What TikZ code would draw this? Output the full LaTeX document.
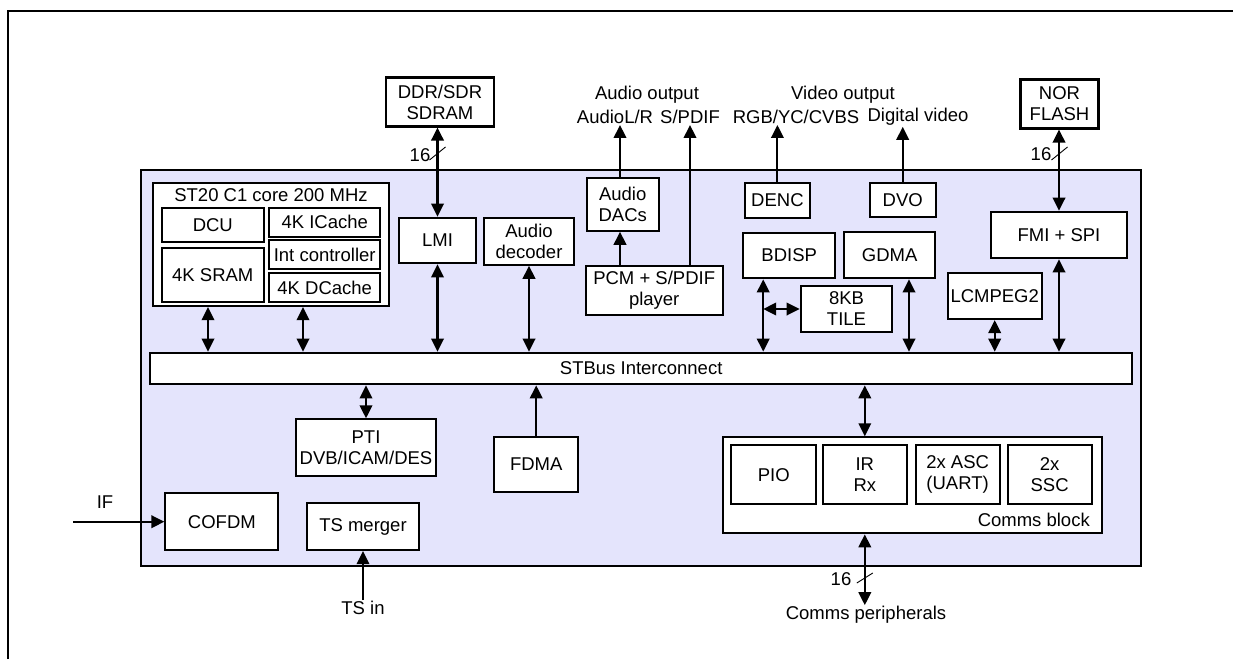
\documentclass[tikz,border=0pt]{standalone}
\usepackage{fontspec}
\setmainfont{Liberation Sans}
\usepackage{tikz}
\usetikzlibrary{calc, positioning, arrows.meta}
\usepackage{xcolor}
\definecolor{chipFill}{RGB}{228, 228, 252}

\begin{document}
\begin{tikzpicture}[
  x=1pt, y=-1pt,
  every node/.style={font=\fontsize{18.5}{21}\selectfont},
  blk/.style={draw, line width=2.1pt, fill=white, align=center, inner sep=0pt},
  lbl/.style={align=center, inner sep=1pt},
  link/.style={line width=2.1pt},
  slash/.style={line width=0.9pt},
  >={Triangle[length=13pt, width=12.5pt]}
]
  \useasboundingbox (0,0) rectangle (1233,659);
  \draw[line width=2.6pt] (8,659) -- (8,11) -- (1233,11);

  % chip outline
  \draw[line width=2.1pt, fill=chipFill] (141,170) rectangle (1141,566);

  % external memories and outputs
  \node[blk, minimum width=108pt, minimum height=49pt] (sdram) at (440,102) {DDR/SDR\\SDRAM};
  \node[blk, minimum width=78pt, minimum height=49pt] (nor) at (1059.5,104) {NOR\\FLASH};
  \node[lbl] (aout) at (647,95) {Audio output};
  \node[lbl] (audlr) at (615,117) {AudioL/R};
  \node[lbl] (spdif) at (690,117) {S/PDIF};
  \node[lbl] (vout) at (843,95) {Video output};
  \node[lbl] (rgb) at (796,117) {RGB/YC/CVBS};
  \node[lbl] (digv) at (918,117) {Digital video};

  % CPU core
  \node[blk, minimum width=236.6pt, minimum height=122.7pt] (core) at (271,244.7) {};
  \node[lbl, below=5pt of core.north] (coretitle) {ST20 C1 core 200 MHz};
  \node[blk, minimum width=102pt, minimum height=34pt] (dcu) at (212.8,224.7) {DCU};
  \node[blk, minimum width=102pt, minimum height=54pt] (sram) at (212.8,274.7) {4K SRAM};
  \node[blk, minimum width=110.7pt, minimum height=29pt] (icache) at (324.7,222.2) {4K ICache};
  \node[blk, minimum width=110.7pt, minimum height=29pt] (intc) at (324.7,254.5) {Int controller};
  \node[blk, minimum width=110.7pt, minimum height=29.6pt] (dcache) at (324.7,287.5) {4K DCache};

  % blocks above the bus
  \node[blk, minimum width=77pt, minimum height=45.6pt] (lmi) at (437.5,240.5) {LMI};
  \node[blk, minimum width=90pt, minimum height=47pt] (adec) at (529,241.2) {Audio\\decoder};
  \node[blk, minimum width=72pt, minimum height=53pt] (dacs) at (622.7,204.2) {Audio\\DACs};
  \node[blk, minimum width=137pt, minimum height=49.6pt] (pcm) at (654.2,290.5) {PCM + S/PDIF\\player};
  \node[blk, minimum width=65.3pt, minimum height=35pt] (denc) at (777.4,200.2) {DENC};
  \node[blk, minimum width=66pt, minimum height=33.4pt] (dvo) at (902.7,200) {DVO};
  \node[blk, minimum width=91.7pt, minimum height=45.6pt] (bdisp) at (789.2,255.5) {BDISP};
  \node[blk, minimum width=91.6pt, minimum height=46.6pt] (tile) at (846.5,309) {8KB\\TILE};
  \node[blk, minimum width=90.7pt, minimum height=46.6pt] (gdma) at (889.7,255) {GDMA};
  \node[blk, minimum width=94pt, minimum height=46.3pt] (lcm) at (994.7,295.9) {LCMPEG2};
  \node[blk, minimum width=136.6pt, minimum height=46.6pt] (fmi) at (1059,235) {FMI + SPI};

  \node[blk, minimum width=982.3pt, minimum height=31.6pt] (bus) at (641.2,368.5) {STBus Interconnect};

  % blocks below the bus
  \node[blk, minimum width=140.3pt, minimum height=56.7pt] (pti) at (366,447.7) {PTI\\DVB/ICAM/DES};
  \node[blk, minimum width=83.8pt, minimum height=55.6pt] (fdma) at (536.2,464.5) {FDMA};
  \node[blk, minimum width=113pt, minimum height=56.7pt] (cofdm) at (221.9,521.7) {COFDM};
  \node[blk, minimum width=112.3pt, minimum height=46.7pt] (tsm) at (363,526.7) {TS merger};
  \node[blk, minimum width=379.3pt, minimum height=96pt] (comms) at (912.4,485.3) {};
  \node[blk, minimum width=85pt, minimum height=59.3pt] (pio) at (773.8,474.7) {PIO};
  \node[blk, minimum width=84pt, minimum height=59.3pt] (irrx) at (864.8,474.7) {IR\\Rx};
  \node[blk, minimum width=84pt, minimum height=59.3pt] (asc) at (957.6,474.7) {2x ASC\\(UART)};
  \node[blk, minimum width=84pt, minimum height=59.3pt] (ssc) at (1049.6,474.7) {2x\\SSC};
  \node[lbl, anchor=east] (cblk) at (1091,520) {Comms block};

  \node[lbl] (iflbl) at (105,502) {IF};
  \coordinate (ifin) at (73,521.7);
  \node[lbl] (tsin) at (363,608) {TS in};
  \node[lbl] (cper) at (866,615) {Comms peripherals};

  % bus widths
  \node[lbl] (w1) at (420,155) {16};
  \node[lbl] (w2) at (1041,154) {16};
  \node[lbl] (w3) at (841,579) {16};
  \coordinate (m1) at (437.5,153.5);
  \coordinate (m2) at (1059.5,153.5);
  \coordinate (m3) at (864.8,578);
  \draw[slash] ($(m1)+(-8,6.5)$) -- ($(m1)+(8,-6.5)$);
  \draw[slash] ($(m2)+(-8,6.5)$) -- ($(m2)+(8,-6.5)$);
  \draw[slash] ($(m3)+(-8,5)$) -- ($(m3)+(8,-5)$);

  % connections
  \draw[link, <->] (lmi.north |- sdram.south) -- (lmi.north);
  \draw[link, <->] (fmi.north |- nor.south) -- (fmi.north);
  \draw[link, ->] (dacs.north -| audlr.south) ++(5,0) -- ($(audlr.south)+(5,0)$);
  \draw[link, ->] (spdif.south |- pcm.north) -- (spdif.south);
  \draw[link, ->] (pcm.north -| dacs.south) ++(-2.7,0) -- ($(dacs.south)+(-2.7,0)$);
  \draw[link, ->] (denc.north) -- (denc.north |- rgb.south);
  \draw[link, ->] (dvo.north) -- (dvo.north |- digv.south);

  \draw[link, <->] ([xshift=-63pt]core.south) -- ([xshift=-63pt]core.south |- bus.north);
  \draw[link, <->] ([xshift=32pt]core.south) -- ([xshift=32pt]core.south |- bus.north);
  \draw[link, <->] (lmi.south) -- (lmi.south |- bus.north);
  \draw[link, <->] (adec.south) -- (adec.south |- bus.north);
  \coordinate (bd) at ([xshift=-26pt]bdisp.south);
  \draw[link, <->] (bd) -- (bd |- bus.north);
  \draw[link, <->] (bd |- tile.west) -- (tile.west);
  \draw[link, <->] ([xshift=19.3pt]gdma.south) -- ([xshift=19.3pt]gdma.south |- bus.north);
  \draw[link, <->] (lcm.south) -- (lcm.south |- bus.north);
  \draw[link, <->] (fmi.south) -- (fmi.south |- bus.north);

  \draw[link, <->] (pti.north |- bus.south) -- (pti.north);
  \draw[link, ->] (fdma.north) -- (fdma.north |- bus.south);
  \draw[link, <->] (irrx.north |- bus.south) -- (irrx.north |- comms.north);
  \draw[link, ->] (ifin) -- (cofdm.west);
  \draw[link, ->] (tsin.north) -- (tsm.south);
  \draw[link, <->] (irrx.south |- comms.south) -- (irrx.south |- cper.north);
\end{tikzpicture}
\end{document}
